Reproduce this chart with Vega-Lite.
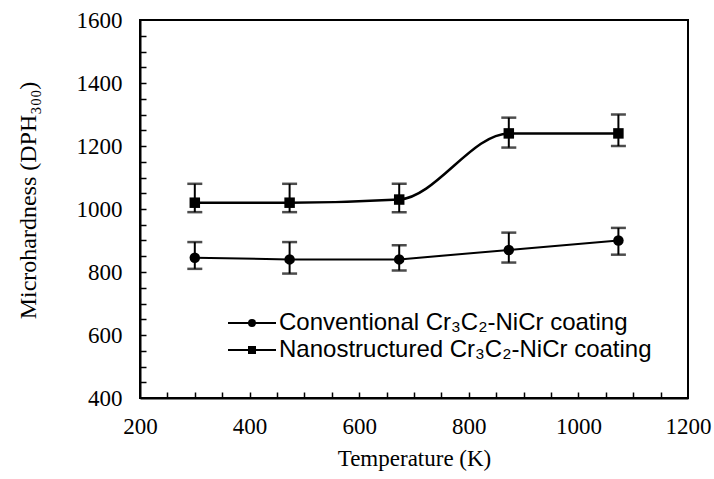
{
  "$schema": "https://vega.github.io/schema/vega-lite/v6.json",
  "width": 548,
  "height": 378,
  "autosize": "none",
  "padding": {"left": 140, "top": 20, "right": 26, "bottom": 81},
  "background": "white",
  "config": {
    "view": {"stroke": "black", "strokeWidth": 2},
    "axis": {
      "grid": false,
      "domainColor": "black",
      "domainWidth": 2,
      "tickColor": "black",
      "tickWidth": 1.5,
      "labelFont": "Liberation Serif",
      "labelFontSize": 23,
      "labelColor": "black",
      "titleFont": "Liberation Serif",
      "titleFontSize": 23,
      "titleFontWeight": "normal",
      "titleColor": "black"
    }
  },
  "datasets": {
    "pts": [
      {"series": "Conventional", "T": 300, "H": 845, "lo": 810, "hi": 895},
      {"series": "Conventional", "T": 473, "H": 840, "lo": 795, "hi": 895},
      {"series": "Conventional", "T": 673, "H": 840, "lo": 805, "hi": 885},
      {"series": "Conventional", "T": 873, "H": 870, "lo": 830, "hi": 925},
      {"series": "Conventional", "T": 1073, "H": 900, "lo": 855, "hi": 940},
      {"series": "Nanostructured", "T": 300, "H": 1020, "lo": 990, "hi": 1080},
      {"series": "Nanostructured", "T": 473, "H": 1020, "lo": 990, "hi": 1080},
      {"series": "Nanostructured", "T": 673, "H": 1030, "lo": 990, "hi": 1080},
      {"series": "Nanostructured", "T": 873, "H": 1240, "lo": 1195, "hi": 1290},
      {"series": "Nanostructured", "T": 1073, "H": 1240, "lo": 1200, "hi": 1300}
    ],
    "leg": [
      {"label": "Conventional Cr₃C₂-NiCr coating", "T": 300, "H": 845},
      {"label": "Nanostructured Cr₃C₂-NiCr coating", "T": 300, "H": 1020}
    ]
  },
  "layer": [
    {
      "data": {"name": "pts"},
      "transform": [{"filter": "datum.series === 'Nanostructured'"}],
      "mark": {"type": "line", "interpolate": "monotone", "color": "black", "strokeWidth": 2.5},
      "encoding": {
        "x": {
          "field": "T", "type": "quantitative",
          "scale": {"domain": [200, 1200], "nice": false, "zero": false},
          "axis": {
            "orient": "bottom",
            "title": "Temperature (K)",
            "values": [200, 400, 600, 800, 1000, 1200],
            "format": "d",
            "ticks": false,
            "labelPadding": 17,
            "labelBaseline": "top",
            "labelFlush": false,
            "labelOverlap": false,
            "titleX": 274,
            "titleY": 60,
            "titleBaseline": "middle"
          }
        },
        "y": {
          "field": "H", "type": "quantitative",
          "scale": {"domain": [400, 1600], "nice": false, "zero": false},
          "axis": {
            "orient": "left",
            "title": "Microhardness (DPH₃₀₀)",
            "values": [400, 600, 800, 1000, 1200, 1400, 1600],
            "format": "d",
            "ticks": false,
            "labelPadding": 18,
            "labelFlush": false,
            "labelOverlap": false,
            "titleFontSize": 24,
            "titleX": -112,
            "titleY": 180,
            "titleAngle": -90,
            "titleAlign": "center",
            "titleBaseline": "middle"
          }
        }
      }
    },
    {
      "data": {"name": "pts"},
      "transform": [{"filter": "datum.series === 'Conventional'"}],
      "mark": {"type": "line", "interpolate": "linear", "color": "black", "strokeWidth": 2},
      "encoding": {
        "x": {"field": "T", "type": "quantitative", "axis": null},
        "y": {"field": "H", "type": "quantitative", "axis": null}
      }
    },
    {
      "data": {"name": "pts"},
      "mark": {"type": "rule", "color": "black", "strokeWidth": 2},
      "encoding": {
        "x": {
          "field": "T", "type": "quantitative",
          "axis": {
            "orient": "bottom",
            "offset": -6,
            "values": [250,300,350,400,450,500,550,600,650,700,750,800,850,900,950,1000,1050,1100,1150],
            "domain": false,
            "labels": false,
            "title": null,
            "ticks": true,
            "tickSize": 6,
            "tickWidth": 1.5
          }
        },
        "y": {
          "field": "lo", "type": "quantitative",
          "axis": {
            "orient": "left",
            "offset": -6,
            "values": [450,500,550,600,650,700,750,800,850,900,950,1000,1050,1100,1150,1200,1250,1300,1350,1400,1450,1500,1550],
            "domain": false,
            "labels": false,
            "title": null,
            "ticks": true,
            "tickSize": 6,
            "tickWidth": 1.5
          }
        },
        "y2": {"field": "hi"}
      }
    },
    {
      "data": {"name": "pts"},
      "mark": {"type": "tick", "orient": "horizontal", "color": "black", "size": 15, "thickness": 2.5},
      "encoding": {
        "x": {"field": "T", "type": "quantitative", "axis": null},
        "y": {"field": "lo", "type": "quantitative", "axis": null}
      }
    },
    {
      "data": {"name": "pts"},
      "mark": {"type": "tick", "orient": "horizontal", "color": "black", "size": 15, "thickness": 2.5},
      "encoding": {
        "x": {"field": "T", "type": "quantitative", "axis": null},
        "y": {"field": "hi", "type": "quantitative", "axis": null}
      }
    },
    {
      "data": {"name": "pts"},
      "mark": {"type": "point", "filled": true, "color": "black", "opacity": 1},
      "encoding": {
        "x": {"field": "T", "type": "quantitative", "axis": null},
        "y": {"field": "H", "type": "quantitative", "axis": null},
        "shape": {
          "field": "series", "type": "nominal",
          "scale": {"domain": ["Conventional", "Nanostructured"], "range": ["circle", "square"]},
          "legend": null
        },
        "size": {"value": 110}
      }
    },
    {
      "data": {"name": "leg"},
      "mark": {"type": "point", "filled": false, "color": "black", "strokeWidth": 2, "opacity": 0},
      "encoding": {
        "x": {"field": "T", "type": "quantitative", "axis": null},
        "y": {"field": "H", "type": "quantitative", "axis": null},
        "shape": {
          "field": "label", "type": "nominal",
          "scale": {
            "domain": ["Conventional Cr₃C₂-NiCr coating", "Nanostructured Cr₃C₂-NiCr coating"],
            "range": [
              "M-6,0H6M-0.75,0A0.75,0.75,0,1,0,0.75,0A0.75,0.75,0,1,0,-0.75,0ZM-0.25,0A0.25,0.25,0,1,0,0.25,0A0.25,0.25,0,1,0,-0.25,0Z",
              "M-6,0H6M-0.75,-0.75H0.75V0.75H-0.75ZM-0.25,-0.25H0.25V0.25H-0.25Z"
            ]
          },
          "legend": {
            "title": null,
            "orient": "none",
            "legendX": 100,
            "legendY": 291,
            "padding": 0,
            "symbolSize": 64,
            "symbolOpacity": 1,
            "symbolFillColor": "black",
            "symbolStrokeColor": "black",
            "symbolStrokeWidth": 2,
            "labelOffset": 15,
            "labelFont": "Liberation Sans",
            "labelFontSize": 24,
            "labelColor": "black",
            "labelLimit": 0,
            "rowPadding": 3
          }
        },
        "size": {"value": 64}
      }
    }
  ],
  "resolve": {
    "scale": {"shape": "independent"},
    "axis": {"x": "independent", "y": "independent"}
  }
}
